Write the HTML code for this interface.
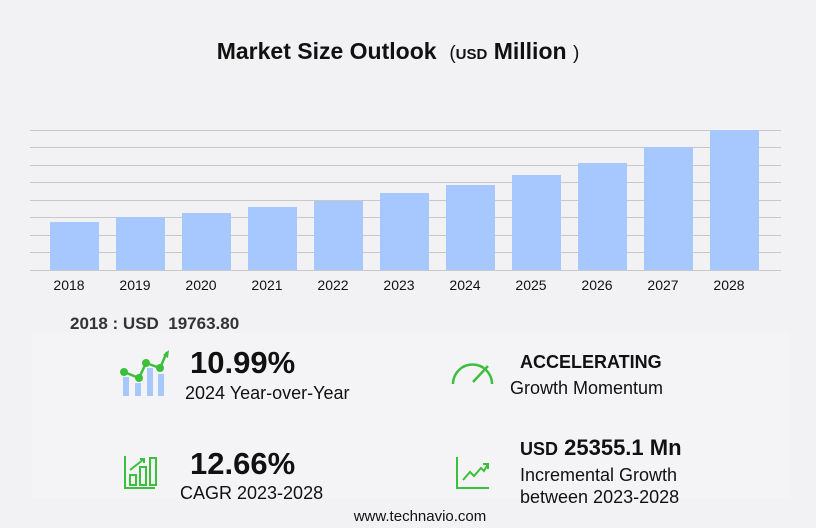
<!DOCTYPE html>
<html><head><meta charset="utf-8"><style>
body{margin:0;width:816px;height:528px;background:#f2f2f4;font-family:"Liberation Sans","DejaVu Sans",sans-serif;position:relative;overflow:hidden;color:#111}
.t{position:absolute;white-space:nowrap}
</style></head><body>
<div class="t" style="left:0;width:796px;top:38px;text-align:center;font-size:23px;font-weight:bold">Market Size Outlook &nbsp;<span style="font-weight:normal;font-size:19px">(</span><span style="font-size:15px">USD</span> Million <span style="font-weight:normal;font-size:19px">)</span></div>
<svg width="816" height="300" style="position:absolute;left:0;top:0">
<g stroke="#c8c8cc" stroke-width="1">
<line x1="30" x2="781" y1="130.5" y2="130.5"/><line x1="30" x2="781" y1="147.5" y2="147.5"/><line x1="30" x2="781" y1="165.5" y2="165.5"/><line x1="30" x2="781" y1="182.5" y2="182.5"/><line x1="30" x2="781" y1="200.5" y2="200.5"/><line x1="30" x2="781" y1="217.5" y2="217.5"/><line x1="30" x2="781" y1="235.5" y2="235.5"/><line x1="30" x2="781" y1="252.5" y2="252.5"/><line x1="30" x2="781" y1="270.5" y2="270.5"/>
</g>
<g fill="#a6c8ff">
<rect x="50" y="222" width="49" height="48"/><rect x="116" y="217" width="49" height="53"/><rect x="182" y="213" width="49" height="57"/><rect x="248" y="207" width="49" height="63"/><rect x="314" y="201" width="49" height="69"/><rect x="380" y="193" width="49" height="77"/><rect x="446" y="185" width="49" height="85"/><rect x="512" y="175" width="49" height="95"/><rect x="578" y="163" width="49" height="107"/><rect x="644" y="147" width="49" height="123"/><rect x="710" y="130" width="49" height="140"/>
</g>
<g font-size="14" fill="#111" text-anchor="middle" font-family="Liberation Sans, sans-serif">
<text x="69" y="290">2018</text><text x="135" y="290">2019</text><text x="201" y="290">2020</text><text x="267" y="290">2021</text><text x="333" y="290">2022</text><text x="399" y="290">2023</text><text x="465" y="290">2024</text><text x="531" y="290">2025</text><text x="597" y="290">2026</text><text x="663" y="290">2027</text><text x="729" y="290">2028</text>
</g>
</svg>
<div style="position:absolute;left:32px;top:333px;width:758px;height:165px;background:#f4f4f6"></div>
<div class="t" style="left:70px;top:314px;font-size:17px;font-weight:bold;color:#333">2018 : USD&nbsp; 19763.80</div>
<svg width="816" height="528" style="position:absolute;left:0;top:0">
<g fill="#a6c8ff"><rect x="123" y="377" width="6" height="19"/><rect x="135" y="383" width="6" height="13"/><rect x="147" y="368" width="6" height="28"/><rect x="158" y="374" width="6" height="22"/></g>
<polyline points="124,372 139,378 146,363 160,368 167,352" fill="none" stroke="#3cbf3c" stroke-width="2.5"/>
<g fill="#3cbf3c"><circle cx="124" cy="372" r="4"/><circle cx="139" cy="378" r="4"/><circle cx="146" cy="363" r="4"/><circle cx="160" cy="368" r="4"/><path d="M163,355 L169,350 L168,358Z"/></g>
<g fill="none" stroke="#3cbf3c" stroke-width="2.5"><path d="M453,384 A19,19 0 0 1 492,384"/><line x1="473" y1="382" x2="488" y2="366"/></g>
<g fill="none" stroke="#3cbf3c" stroke-width="2"><path d="M125,456 V488 H155"/><rect x="130" y="475" width="6" height="10"/><rect x="140" y="467" width="6" height="18"/><rect x="150" y="458" width="6" height="27"/><path d="M130,470 L144,459 M140,459 H144 V463"/></g>
<g fill="none" stroke="#3cbf3c" stroke-width="2"><path d="M457,457 V488 H489"/><path d="M463,480 L470,472 L474,476 L481,468 L484,471 L488,464 M483,464 H488 V469"/></g>
</svg>
<div class="t" style="left:190px;top:345px;font-size:31px;font-weight:bold">10.99%</div>
<div class="t" style="left:185px;top:383px;font-size:18px">2024 Year-over-Year</div>
<div class="t" style="left:520px;top:352px;font-size:18px;font-weight:bold">ACCELERATING</div>
<div class="t" style="left:510px;top:378px;font-size:18px">Growth Momentum</div>
<div class="t" style="left:190px;top:446px;font-size:31px;font-weight:bold">12.66%</div>
<div class="t" style="left:180px;top:483px;font-size:18px">CAGR 2023-2028</div>
<div class="t" style="left:520px;top:435px;font-size:22px;font-weight:bold"><span style="font-size:18px">USD</span> 25355.1 Mn</div>
<div class="t" style="left:520px;top:465px;font-size:18px">Incremental Growth</div>
<div class="t" style="left:520px;top:487px;font-size:18px">between 2023-2028</div>
<div class="t" style="left:0;width:840px;text-align:center;top:508px;font-size:15px">www.technavio.com</div>
</body></html>
